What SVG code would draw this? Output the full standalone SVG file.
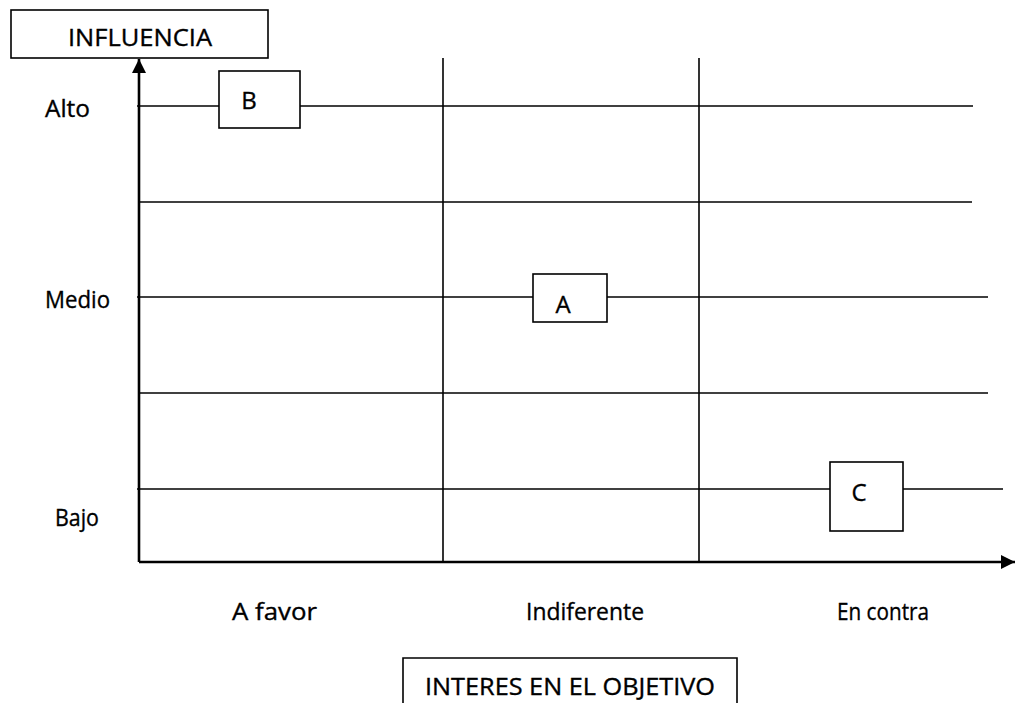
<svg xmlns="http://www.w3.org/2000/svg" width="1015" height="703" viewBox="0 0 1015 703">
<style>
text{font-family:"Open Sans","Noto Sans","DejaVu Sans",sans-serif;font-size:24px;fill:#000;stroke:#000;stroke-width:0.35}
.ln{stroke:#000;stroke-width:1.6;fill:none}
.ax{stroke:#000;stroke-width:2.6;fill:none}
.bx{fill:#fff;stroke:#000;stroke-width:1.6}
.mid{text-anchor:middle}
</style>
<defs>
<marker id="ah" viewBox="0 0 10 10" refX="10" refY="5" markerWidth="14" markerHeight="14" markerUnits="userSpaceOnUse" orient="auto">
<path d="M0,0 L10,5 L0,10 z" fill="#000"/>
</marker>
</defs>
<g id="connectors">
<line class="ln" x1="137" y1="106" x2="973" y2="106"/>
<line class="ln" x1="140" y1="202" x2="972" y2="202"/>
<line class="ln" x1="137" y1="297" x2="988" y2="297"/>
<line class="ln" x1="140" y1="393" x2="988" y2="393"/>
<line class="ln" x1="137" y1="489" x2="1003" y2="489"/>
<line class="ln" x1="443" y1="58" x2="443" y2="562"/>
<line class="ln" x1="699" y1="58" x2="699" y2="562"/>
<line class="ax" x1="139" y1="562" x2="139" y2="59" marker-end="url(#ah)"/>
<line class="ax" x1="139" y1="562" x2="1015" y2="562" marker-end="url(#ah)"/>
</g>
<g id="influencia">
<rect class="bx" x="11" y="10" width="257" height="48"/>
<text x="68" y="46" textLength="144" lengthAdjust="spacingAndGlyphs">INFLUENCIA</text>
</g>
<g id="interes">
<path class="ln" d="M403,705 V658 H737 V705" fill="#fff"/>
<text x="425" y="695" textLength="290" lengthAdjust="spacingAndGlyphs">INTERES EN EL OBJETIVO</text>
</g>
<g id="nodeB">
<rect class="bx" x="219" y="71" width="81" height="57"/>
<text x="249" y="109" class="mid">B</text>
</g>
<g id="nodeA">
<rect class="bx" x="533" y="274" width="74" height="48"/>
<text x="563" y="313" class="mid">A</text>
</g>
<g id="nodeC">
<rect class="bx" x="830" y="462" width="73" height="69"/>
<text x="859" y="501" class="mid">C</text>
</g>
<g id="labels">
<text x="45" y="117" textLength="45" lengthAdjust="spacingAndGlyphs">Alto</text>
<text x="45" y="308" textLength="65" lengthAdjust="spacingAndGlyphs">Medio</text>
<text x="55" y="526" textLength="44" lengthAdjust="spacingAndGlyphs">Bajo</text>
<text x="232" y="620" textLength="85" lengthAdjust="spacingAndGlyphs">A favor</text>
<text x="526" y="620" textLength="118" lengthAdjust="spacingAndGlyphs">Indiferente</text>
<text x="837" y="620" textLength="92" lengthAdjust="spacingAndGlyphs">En contra</text>
</g>
</svg>
